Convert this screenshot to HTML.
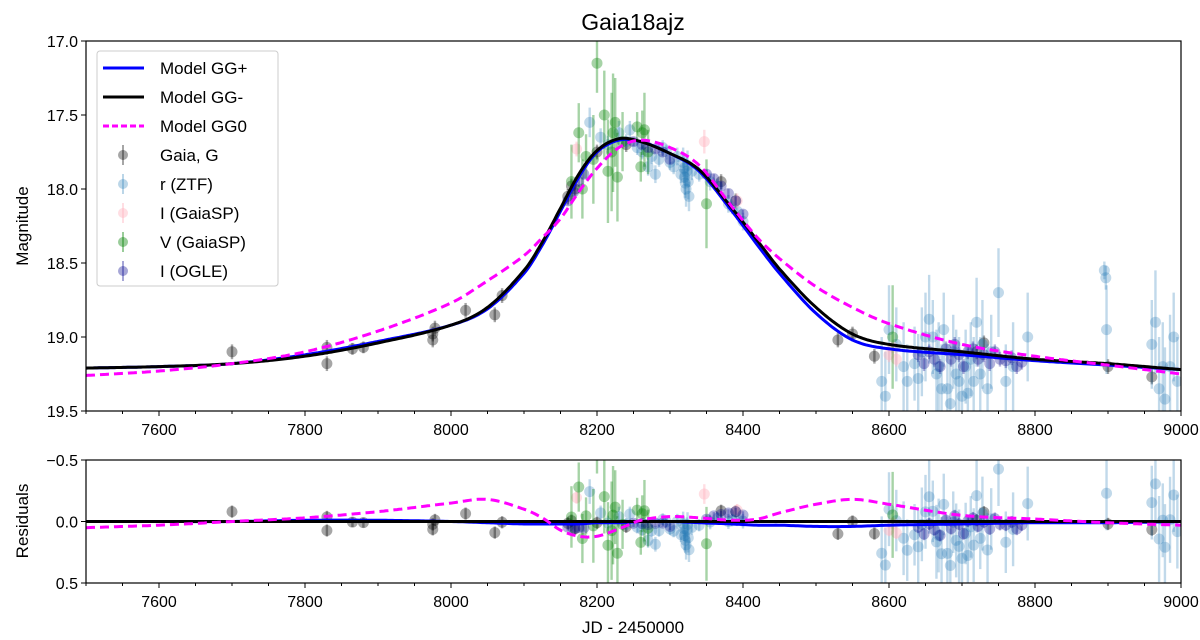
<!DOCTYPE html>
<html><head><meta charset="utf-8"><style>
body{margin:0;background:#fff}
svg{display:block;font-family:"Liberation Sans","DejaVu Sans",sans-serif}
</style></head><body>
<svg id="chart" width="1200" height="640" viewBox="0 0 1200 640" xmlns="http://www.w3.org/2000/svg">
<defs>
<clipPath id="cm"><rect x="86" y="41" width="1095" height="370"/></clipPath>
<clipPath id="cr"><rect x="86" y="460" width="1095" height="123"/></clipPath>
</defs>
<rect width="1200" height="640" fill="#fff"/>
<text x="633" y="30" font-size="23" text-anchor="middle">Gaia18ajz</text>
<g id="mainMarks" clip-path="url(#cm)"></g>
<g id="resMarks" clip-path="url(#cr)"></g>
<g id="axes"></g>
<text transform="translate(28,226) rotate(-90)" font-size="17" text-anchor="middle">Magnitude</text>
<text transform="translate(28,521) rotate(-90)" font-size="17" text-anchor="middle">Residuals</text>
<text x="633" y="633" font-size="17" text-anchor="middle">JD - 2450000</text>
<g id="legend"></g>
</svg>
<script>
const xTicks=[7600,7800,8000,8200,8400,8600,8800,9000];
const yTicks=[17.0,17.5,18.0,18.5,19.0,19.5];
const rTicks=[-0.5,0.0,0.5];
const modelX=[7500,7600,7700,7800,7900,8000,8050,8100,8125,8150,8175,8200,8230,8260,8300,8340,8385,8420,8450,8500,8550,8600,8700,8800,8900,9000];
const modelMinus=[19.21,19.2,19.18,19.13,19.04,18.92,18.8,18.55,18.36,18.13,17.9,17.74,17.66,17.68,17.76,17.87,18.13,18.35,18.54,18.8,18.98,19.05,19.1,19.15,19.18,19.22];
const modelPlus=[19.21,19.2,19.18,19.12,19.03,18.92,18.81,18.57,18.38,18.15,17.92,17.75,17.67,17.68,17.76,17.88,18.15,18.38,18.57,18.84,19.02,19.08,19.12,19.16,19.19,19.22];
const modelZero=[19.26,19.23,19.18,19.1,18.96,18.77,18.62,18.45,18.33,18.2,18.02,17.86,17.72,17.67,17.72,17.84,18.12,18.33,18.47,18.66,18.8,18.91,19.05,19.13,19.19,19.25];
const gaiaX=[7700,7830,7830,7865,7880,7975,7975,7978,8020,8060,8070,8160,8165,8170,8200,8240,8370,8390,8530,8550,8580,8720,8730,8900,8960];
const gaiaM=[19.1,19.07,19.18,19.08,19.07,19.02,18.98,18.94,18.82,18.85,18.72,18.05,17.98,18.0,17.75,17.7,17.95,18.08,19.02,18.98,19.13,19.1,19.04,19.2,19.27];
const gaiaE=[0.05,0.05,0.05,0.04,0.04,0.05,0.05,0.05,0.05,0.05,0.05,0.05,0.05,0.05,0.05,0.05,0.05,0.05,0.05,0.05,0.05,0.05,0.05,0.05,0.05];
const ztfX=[8190,8205,8215,8230,8240,8245,8255,8262,8270,8275,8280,8285,8290,8295,8300,8305,8310,8315,8318,8319,8320,8321,8322,8323,8324,8325,8326,8330,8340,8355,8365,8380,8385,8392,8400,8590,8595,8600,8610,8620,8625,8635,8640,8645,8650,8655,8660,8665,8668,8672,8675,8680,8684,8688,8692,8696,8700,8705,8708,8712,8716,8720,8725,8728,8735,8740,8750,8760,8770,8790,8895,8897,8898,8960,8965,8970,8975,8978,8985,8990,8995];
const ztfM=[17.55,17.65,17.7,17.62,17.68,17.6,17.72,17.75,17.85,17.78,17.9,17.8,17.72,17.75,17.82,17.85,17.78,17.9,17.82,17.86,17.92,17.96,18.0,17.88,17.84,17.95,18.05,17.88,17.9,17.95,17.98,18.1,18.12,18.15,18.22,19.3,19.4,18.95,19.05,19.2,19.3,19.18,19.28,19.1,19.0,18.88,19.0,19.25,19.2,19.35,18.95,19.35,19.45,19.1,19.25,19.3,19.4,19.2,19.38,19.15,19.3,18.9,19.25,19.05,19.35,19.1,18.7,19.3,19.2,19.0,18.55,18.6,18.95,19.05,18.9,19.35,19.2,19.42,19.2,19.0,19.3];
const ztfE=[0.1,0.06,0.06,0.08,0.05,0.06,0.05,0.05,0.06,0.05,0.06,0.05,0.05,0.05,0.05,0.05,0.06,0.06,0.1,0.1,0.12,0.1,0.12,0.1,0.1,0.12,0.1,0.06,0.05,0.06,0.05,0.06,0.05,0.06,0.06,0.3,0.3,0.3,0.25,0.3,0.25,0.25,0.3,0.3,0.3,0.3,0.25,0.3,0.3,0.3,0.25,0.3,0.3,0.25,0.3,0.3,0.3,0.25,0.3,0.25,0.3,0.3,0.25,0.3,0.3,0.25,0.3,0.25,0.3,0.3,0.06,0.08,0.3,0.3,0.35,0.35,0.3,0.35,0.35,0.3,0.3];
const ispX=[8172,8347,8392,8600,8605,8610];
const ispM=[17.73,17.68,18.08,19.12,19.07,19.15];
const ispE=[0.05,0.08,0.05,0.05,0.05,0.05];
const vspX=[8165,8175,8180,8185,8195,8200,8210,8215,8220,8222,8225,8228,8235,8255,8260,8262,8265,8270,8350,8605];
const vspM=[17.95,17.62,18.0,17.78,17.8,17.15,17.5,17.88,17.75,17.62,17.55,17.92,17.68,17.58,17.85,17.62,17.6,17.75,18.1,19.0];
const vspE=[0.25,0.2,0.2,0.15,0.3,0.2,0.3,0.35,0.4,0.4,0.3,0.3,0.2,0.1,0.1,0.15,0.25,0.15,0.3,0.35];
const ogleX=[8160,8168,8175,8182,8250,8262,8270,8280,8290,8300,8350,8360,8370,8380,8390,8400,8640,8648,8655,8662,8670,8678,8685,8690,8696,8702,8708,8715,8722,8730,8738,8745,8752,8760,8768,8775,8782];
const ogleM=[18.08,18.02,17.95,17.9,17.68,17.7,17.72,17.73,17.75,17.8,17.9,17.93,17.98,18.03,18.08,18.17,19.12,19.18,19.1,19.15,19.2,19.08,19.15,19.05,19.12,19.2,19.1,19.08,19.15,19.12,19.18,19.1,19.15,19.16,19.14,19.2,19.17];
const ogleE=[0.03,0.03,0.03,0.03,0.03,0.03,0.03,0.03,0.03,0.03,0.03,0.03,0.03,0.03,0.03,0.03,0.05,0.05,0.05,0.05,0.05,0.05,0.05,0.05,0.05,0.05,0.05,0.05,0.05,0.05,0.05,0.05,0.05,0.05,0.05,0.05,0.05];

const NS='http://www.w3.org/2000/svg';
const X=v=>86+(v-7500)/1500*1095;
const Y=m=>41+(m-17)/2.5*370;
const R=r=>460+(r+0.5)*123;
function el(t,a,p){const e=document.createElementNS(NS,t);for(const k in a)e.setAttribute(k,a[k]);p.appendChild(e);return e;}
function interp(xs,ys,v){
  const n=xs.length;
  if(v<=xs[0])return ys[0];if(v>=xs[n-1])return ys[n-1];
  let i=1;while(v>xs[i])i++;
  const x0=xs[i-1],x1=xs[i],y0=ys[i-1],y1=ys[i],h=x1-x0,t=(v-x0)/h;
  const sl=(a,b)=>(ys[b]-ys[a])/(xs[b]-xs[a]);
  const m0=(i-1>0)?sl(i-2,i):sl(i-1,i);
  const m1=(i<n-1)?sl(i-1,i+1):sl(i-1,i);
  const t2=t*t,t3=t2*t;
  return (2*t3-3*t2+1)*y0+(t3-2*t2+t)*h*m0+(-2*t3+3*t2)*y1+(t3-t2)*h*m1;
}
const main=document.getElementById('mainMarks'),res=document.getElementById('resMarks'),ax=document.getElementById('axes'),lg=document.getElementById('legend');

const series=[
 {name:'gaia-g',xs:gaiaX,ms:gaiaM,es:gaiaE,col:'#000',op:0.35},
 {name:'r-ztf',xs:ztfX,ms:ztfM,es:ztfE,col:'#1f77b4',op:0.28},
 {name:'i-gaiasp',xs:ispX,ms:ispM,es:ispE,col:'#ffb6c1',op:0.45},
 {name:'v-gaiasp',xs:vspX,ms:vspM,es:vspE,col:'#008000',op:0.35},
 {name:'i-ogle',xs:ogleX,ms:ogleM,es:ogleE,col:'#00008b',op:0.3}
];
series.forEach(s=>{
  const gm=el('g',{},main);
  
  
  const gr=el('g',{},res);
  
  
  s.xs.forEach((x,i)=>{
    const m=s.ms[i],e=s.es[i],r=m-interp(modelX,modelMinus,x);
    const px=X(x);
    el('line',{x1:px,x2:px,y1:Y(m-e),y2:Y(m+e),stroke:s.col,'stroke-width':2.4,'stroke-opacity':s.op},gm);
    const c=el('circle',{cx:px,cy:Y(m),r:5.5,fill:s.col,'fill-opacity':s.op},gm);
    
    
    el('line',{x1:px,x2:px,y1:R(r-e),y2:R(r+e),stroke:s.col,'stroke-width':2.4,'stroke-opacity':s.op},gr);
    const c2=el('circle',{cx:px,cy:R(r),r:5.5,fill:s.col,'fill-opacity':s.op},gr);
    
    
  });
});
function curve(ys,f){let d='';for(let v=7500;v<=9000;v+=3){d+=(d?'L':'M')+X(v).toFixed(1)+','+f(v,interp(modelX,ys,v)).toFixed(1);}return d;}
const models=[
 {name:'model-gg-plus',ys:modelPlus,col:'#0000ff',dash:''},
 {name:'model-gg-minus',ys:modelMinus,col:'#000',dash:''},
 {name:'model-gg0',ys:modelZero,col:'#ff00ff',dash:'9,5'}
];
models.forEach(m=>{
  const p=el('path',{d:curve(m.ys,(v,y)=>Y(y)),fill:'none',stroke:m.col,'stroke-width':3,'stroke-dasharray':m.dash},main);
  
  
  const p2=el('path',{d:curve(m.ys,(v,y)=>R(y-interp(modelX,modelMinus,v))),fill:'none',stroke:m.col,'stroke-width':3,'stroke-dasharray':m.dash},res);
  
  
});
[[41,411],[460,583]].forEach(([t,b],k)=>{
  const f=el('rect',{x:86,y:t,width:1095,height:b-t,fill:'none',stroke:'#000','stroke-width':1.2},ax);
  
  
  for(let v=7500;v<=9000;v+=50){const L=(v%200===0)?5:3;el('line',{x1:X(v),x2:X(v),y1:b,y2:b+L,stroke:'#000','stroke-width':1},ax);}
  xTicks.forEach(v=>{const tx=el('text',{x:X(v),y:b+24,'font-size':16,'text-anchor':'middle'},ax);tx.textContent=v;
    });
});
yTicks.forEach(v=>{el('line',{x1:81,x2:86,y1:Y(v),y2:Y(v),stroke:'#000'},ax);
  const t=el('text',{x:78,y:Y(v)+6,'font-size':16,'text-anchor':'end'},ax);t.textContent=v.toFixed(1);
  });
rTicks.forEach(v=>{el('line',{x1:81,x2:86,y1:R(v),y2:R(v),stroke:'#000'},ax);
  const t=el('text',{x:78,y:R(v)+6,'font-size':16,'text-anchor':'end'},ax);t.textContent=(v<0?'\u22120.5':v.toFixed(1));
  });
el('rect',{x:97,y:51,width:181,height:235,rx:3,fill:'#fff','fill-opacity':0.85,stroke:'#ccc'},lg);
const lgItems=[['Model GG+','line','#0000ff',''],['Model GG-','line','#000',''],['Model GG0','line','#ff00ff','6,3'],
['Gaia, G','pt','#000',0.35],['r (ZTF)','pt','#1f77b4',0.3],['I (GaiaSP)','pt','#ffb6c1',0.45],['V (GaiaSP)','pt','#008000',0.4],['I (OGLE)','pt','#00008b',0.35]];
lgItems.forEach((it,i)=>{
  const y=68+i*29;
  const g=el('g',{},lg);
  
  
  if(it[1]==='line')el('line',{x1:103,x2:144,y1:y,y2:y,stroke:it[2],'stroke-width':3,'stroke-dasharray':it[3]},g);
  else{el('line',{x1:123,x2:123,y1:y-10,y2:y+10,stroke:it[2],'stroke-width':2,'stroke-opacity':it[3]},g);el('circle',{cx:123,cy:y,r:5,fill:it[2],'fill-opacity':it[3]},g);}
  const t=el('text',{x:160,y:y+6,'font-size':17},g);t.textContent=it[0];
});
</script>
</body></html>
